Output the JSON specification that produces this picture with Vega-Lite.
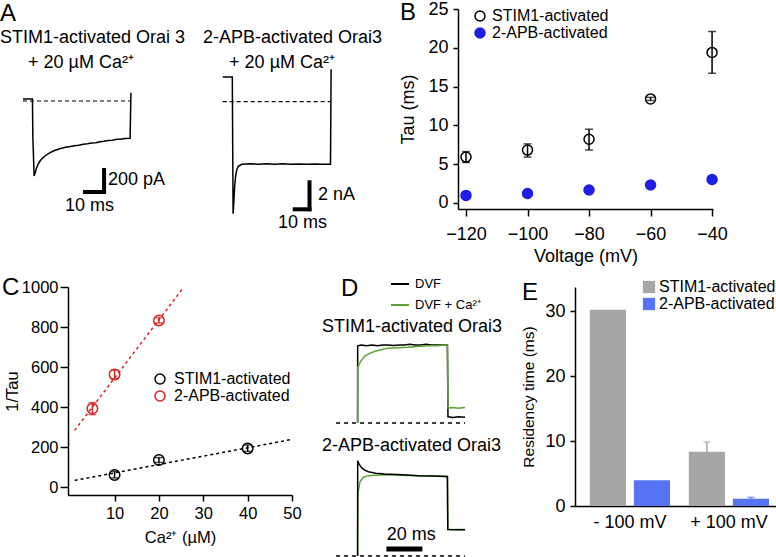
{
  "$schema": "https://vega.github.io/schema/vega-lite/v6.json",
  "padding": 0,
  "background": "white",
  "spacing": 9,
  "bounds": "full",
  "resolve": {"scale": {"x": "independent", "y": "independent", "color": "independent", "stroke": "independent", "fill": "independent"}, "legend": {"color": "independent", "stroke": "independent", "fill": "independent"}},
  "config": {
    "font": "Liberation Sans",
    "view": {"stroke": null},
    "axis": {"grid": false, "domainColor": "black", "domainWidth": 1.5, "tickColor": "black", "tickWidth": 1.5, "tickSize": 5, "labelColor": "black", "labelFontSize": 18, "titleColor": "black", "titleFontSize": 18, "titleFontWeight": "normal", "labelFont": "Liberation Sans", "titleFont": "Liberation Sans", "labelFlush": false, "labelOverlap": false},
    "legend": {"labelFont": "Liberation Sans", "labelColor": "black", "labelFontSize": 16, "padding": 0},
    "title": {"font": "Liberation Sans", "fontWeight": "normal", "fontSize": 24, "color": "black", "anchor": "start", "frame": "group", "subtitleFont": "Liberation Sans", "subtitleFontSize": 18, "subtitleColor": "black"},
    "text": {"font": "Liberation Sans", "color": "black"}
  },
  "datasets": {
    "a1": [{"t":0,"i":17},{"t":4.5,"i":17},{"t":4.7,"i":-300},{"t":5.3,"i":-625},{"t":5.8,"i":-598},{"t":6.5,"i":-556},{"t":7.2,"i":-525},{"t":8.1,"i":-500},{"t":9.2,"i":-478},{"t":10.5,"i":-458},{"t":12.3,"i":-437},{"t":14.4,"i":-417},{"t":17.5,"i":-398},{"t":20.8,"i":-383},{"t":22.6,"i":-379},{"t":24.5,"i":-372},{"t":26.6,"i":-368},{"t":28.7,"i":-361},{"t":30.7,"i":-357},{"t":32.7,"i":-350},{"t":34.7,"i":-347},{"t":36.7,"i":-339},{"t":38.6,"i":-336},{"t":40.6,"i":-329},{"t":42.6,"i":-327},{"t":44.6,"i":-319},{"t":46.5,"i":-318},{"t":48.5,"i":-313},{"t":51.0,"i":-311},{"t":51.4,"i":69}],
    "a1zero": [{"t":0,"i":0},{"t":51,"i":0}],
    "a1bar": [{"t":29.5,"t2":38.6,"i":-758,"i2":-758},{"t":38.6,"t2":38.6,"i":-575,"i2":-758}],
    "a1text": [{"t":2.4,"i":316,"label":"+ 20 µM Ca²⁺"},{"t":40.5,"i":-654,"label":"200 pA"},{"t":20,"i":-875,"label":"10 ms"}],
    "a2": [{"t":0,"i":1.65},{"t":4.8,"i":1.65},{"t":5.2,"i":-7.47},{"t":5.6,"i":-6.6},{"t":6.0,"i":-5.6},{"t":6.5,"i":-4.9},{"t":7.0,"i":-4.55},{"t":7.8,"i":-4.3},{"t":9.5,"i":-4.17},{"t":13.7,"i":-4.13},{"t":18,"i":-4.16},{"t":22,"i":-4.13},{"t":26,"i":-4.17},{"t":30,"i":-4.14},{"t":34,"i":-4.17},{"t":38,"i":-4.15},{"t":42,"i":-4.17},{"t":46,"i":-4.15},{"t":50,"i":-4.16},{"t":53.9,"i":-4.17},{"t":54.2,"i":2.16}],
    "a2zero": [{"t":0,"i":0},{"t":53.7,"i":0}],
    "a2bar": [{"t":36,"t2":43.4,"i":-7.17,"i2":-7.17},{"t":43.4,"t2":43.4,"i":-5.37,"i2":-7.17}],
    "a2text": [{"t":3.2,"i":2.58,"label":"+ 20 µM Ca²⁺"},{"t":47.7,"i":-6.25,"label":"2 nA"},{"t":27.7,"i":-8.09,"label":"10 ms"}],
    "b": [
      {"v":-120,"tau":5.9,"lo":5.2,"hi":6.6,"s":"STIM1-activated"},
      {"v":-100,"tau":6.8,"lo":5.9,"hi":7.6,"s":"STIM1-activated"},
      {"v":-80,"tau":8.2,"lo":6.8,"hi":9.5,"s":"STIM1-activated"},
      {"v":-60,"tau":13.4,"lo":13.2,"hi":13.6,"s":"STIM1-activated"},
      {"v":-40,"tau":19.4,"lo":16.7,"hi":22.1,"s":"STIM1-activated"},
      {"v":-120,"tau":0.95,"s":"2-APB-activated"},
      {"v":-100,"tau":1.2,"s":"2-APB-activated"},
      {"v":-80,"tau":1.65,"s":"2-APB-activated"},
      {"v":-60,"tau":2.3,"s":"2-APB-activated"},
      {"v":-40,"tau":3.0,"s":"2-APB-activated"}
    ],
    "c": [
      {"ca":10,"r":60,"lo":45,"hi":78,"s":"STIM1-activated"},
      {"ca":20,"r":135,"lo":123,"hi":147,"s":"STIM1-activated"},
      {"ca":40,"r":193,"lo":178,"hi":210,"s":"STIM1-activated"},
      {"ca":5,"r":392,"lo":362,"hi":422,"s":"2-APB-activated"},
      {"ca":10,"r":563,"lo":540,"hi":585,"s":"2-APB-activated"},
      {"ca":20,"r":833,"lo":820,"hi":847,"s":"2-APB-activated"}
    ],
    "cfit": [
      {"ca":1,"r":33,"s":"STIM1-activated"},{"ca":50,"r":238,"s":"STIM1-activated"},
      {"ca":1,"r":283,"s":"2-APB-activated"},{"ca":25.4,"r":993,"s":"2-APB-activated"}
    ],
    "dzero": [{"t":-12,"y":0},{"t":59.7,"y":0}],
    "d1": [
      {"t":0,"y":0,"s":"DVF"},{"t":0.05,"y":0.99,"s":"DVF"},{"t":2,"y":1.0,"s":"DVF"},{"t":5,"y":0.99,"s":"DVF"},{"t":8,"y":1.0,"s":"DVF"},{"t":11,"y":0.99,"s":"DVF"},{"t":14,"y":1.0,"s":"DVF"},{"t":17,"y":1.0,"s":"DVF"},{"t":20,"y":0.995,"s":"DVF"},{"t":23,"y":1.0,"s":"DVF"},{"t":26,"y":1.0,"s":"DVF"},{"t":29,"y":1.01,"s":"DVF"},{"t":32,"y":1.0,"s":"DVF"},{"t":35,"y":1.0,"s":"DVF"},{"t":38,"y":1.01,"s":"DVF"},{"t":41,"y":1.0,"s":"DVF"},{"t":44,"y":1.0,"s":"DVF"},{"t":47,"y":1.0,"s":"DVF"},{"t":49.9,"y":1.0,"s":"DVF"},{"t":50.2,"y":0.08,"s":"DVF"},{"t":53,"y":0.07,"s":"DVF"},{"t":56,"y":0.08,"s":"DVF"},{"t":59.7,"y":0.075,"s":"DVF"},
      {"t":0,"y":0,"s":"DVF + Ca²⁺"},{"t":0.05,"y":0.71,"s":"DVF + Ca²⁺"},{"t":1,"y":0.76,"s":"DVF + Ca²⁺"},{"t":2,"y":0.8,"s":"DVF + Ca²⁺"},{"t":4.1,"y":0.86,"s":"DVF + Ca²⁺"},{"t":6.5,"y":0.89,"s":"DVF + Ca²⁺"},{"t":9.7,"y":0.92,"s":"DVF + Ca²⁺"},{"t":13,"y":0.94,"s":"DVF + Ca²⁺"},{"t":16.9,"y":0.96,"s":"DVF + Ca²⁺"},{"t":22,"y":0.965,"s":"DVF + Ca²⁺"},{"t":28,"y":0.97,"s":"DVF + Ca²⁺"},{"t":33,"y":0.98,"s":"DVF + Ca²⁺"},{"t":39,"y":0.99,"s":"DVF + Ca²⁺"},{"t":44,"y":0.99,"s":"DVF + Ca²⁺"},{"t":48.6,"y":1.0,"s":"DVF + Ca²⁺"},{"t":49.9,"y":1.0,"s":"DVF + Ca²⁺"},{"t":50.2,"y":0.19,"s":"DVF + Ca²⁺"},{"t":53,"y":0.2,"s":"DVF + Ca²⁺"},{"t":56,"y":0.19,"s":"DVF + Ca²⁺"},{"t":59.7,"y":0.2,"s":"DVF + Ca²⁺"}
    ],
    "d1text": [{"t":-19.8,"y":1.23,"label":"STIM1-activated Orai3"}],
    "d2": [
      {"t":0,"y":0,"s":"DVF + Ca²⁺"},{"t":0.1,"y":0.8,"s":"DVF + Ca²⁺"},{"t":1.3,"y":0.95,"s":"DVF + Ca²⁺"},{"t":3.2,"y":1.01,"s":"DVF + Ca²⁺"},{"t":6,"y":1.03,"s":"DVF + Ca²⁺"},{"t":15,"y":1.04,"s":"DVF + Ca²⁺"},{"t":25,"y":1.035,"s":"DVF + Ca²⁺"},{"t":33.6,"y":1.03,"s":"DVF + Ca²⁺"},{"t":42,"y":1.025,"s":"DVF + Ca²⁺"},{"t":49.9,"y":1.02,"s":"DVF + Ca²⁺"},{"t":50.1,"y":0.34,"s":"DVF + Ca²⁺"},{"t":55,"y":0.34,"s":"DVF + Ca²⁺"},{"t":59.7,"y":0.34,"s":"DVF + Ca²⁺"},
      {"t":0,"y":0,"s":"DVF"},{"t":0.05,"y":1.22,"s":"DVF"},{"t":1,"y":1.17,"s":"DVF"},{"t":2.3,"y":1.13,"s":"DVF"},{"t":4,"y":1.1,"s":"DVF"},{"t":6,"y":1.08,"s":"DVF"},{"t":10,"y":1.06,"s":"DVF"},{"t":15,"y":1.05,"s":"DVF"},{"t":25,"y":1.04,"s":"DVF"},{"t":33.6,"y":1.03,"s":"DVF"},{"t":42,"y":1.025,"s":"DVF"},{"t":48.5,"y":1.02,"s":"DVF"},{"t":49.9,"y":1.02,"s":"DVF"},{"t":50.1,"y":0.34,"s":"DVF"},{"t":55,"y":0.335,"s":"DVF"},{"t":59.7,"y":0.335,"s":"DVF"}
    ],
    "d2bar": [{"t":16,"t2":36,"y":0.09}],
    "d2text": [{"t":16.2,"y":0.27,"label":"20 ms"},{"t":-19.8,"y":1.41,"label":"2-APB-activated Orai3"}],
    "e": [
      {"g":"- 100 mV","s":"STIM1-activated","v":30.2},
      {"g":"- 100 mV","s":"2-APB-activated","v":3.95},
      {"g":"+ 100 mV","s":"STIM1-activated","v":8.35,"hi":9.85},
      {"g":"+ 100 mV","s":"2-APB-activated","v":1.12,"hi":1.33}
    ]
  },
  "vconcat": [
    {
      "hconcat": [
        {
          "width": 134, "height": 207,
          "title": {"text": "A", "subtitle": "STIM1-activated Orai 3", "dx": -68, "offset": -38, "subtitlePadding": 3},
          "layer": [
            {"data": {"name": "a1zero"}, "mark": {"type": "line", "color": "black", "strokeWidth": 1.2, "strokeDash": [4, 3]},
             "encoding": {"x": {"field": "t", "type": "quantitative", "scale": {"domain": [21.43, 85.24], "nice": false, "zero": false}, "axis": null}, "y": {"field": "i", "type": "quantitative", "scale": {"domain": [-958, 766.4], "nice": false, "zero": false}, "axis": null}}},
            {"data": {"name": "a1"}, "mark": {"type": "line", "color": "black", "strokeWidth": 1.5},
             "encoding": {"x": {"field": "t", "type": "quantitative"}, "y": {"field": "i", "type": "quantitative"}}},
            {"data": {"name": "a1bar"}, "mark": {"type": "rule", "color": "black", "strokeWidth": 4, "strokeCap": "square"},
             "encoding": {"x": {"field": "t", "type": "quantitative"}, "x2": {"field": "t2"}, "y": {"field": "i", "type": "quantitative"}, "y2": {"field": "i2"}}},
            {"data": {"name": "a1text"}, "mark": {"type": "text", "fontSize": 18, "align": "left", "baseline": "middle"},
             "encoding": {"x": {"field": "t", "type": "quantitative"}, "y": {"field": "i", "type": "quantitative"}, "text": {"field": "label"}}}
          ]
        },
        {
          "width": 216, "height": 224,
          "title": {"text": "2-APB-activated Orai3", "fontSize": 18, "dx": -19, "offset": -38},
          "layer": [
            {"data": {"name": "a2zero"}, "mark": {"type": "line", "color": "black", "strokeWidth": 1.2, "strokeDash": [4, 3]},
             "encoding": {"x": {"field": "t", "type": "quantitative", "scale": {"domain": [-0.35, 107.65], "nice": false, "zero": false}, "axis": null}, "y": {"field": "i", "type": "quantitative", "scale": {"domain": [-8.75, 6.18], "nice": false, "zero": false}, "axis": null}}},
            {"data": {"name": "a2"}, "mark": {"type": "line", "color": "black", "strokeWidth": 1.5},
             "encoding": {"x": {"field": "t", "type": "quantitative"}, "y": {"field": "i", "type": "quantitative"}}},
            {"data": {"name": "a2bar"}, "mark": {"type": "rule", "color": "black", "strokeWidth": 4, "strokeCap": "square"},
             "encoding": {"x": {"field": "t", "type": "quantitative"}, "x2": {"field": "t2"}, "y": {"field": "i", "type": "quantitative"}, "y2": {"field": "i2"}}},
            {"data": {"name": "a2text"}, "mark": {"type": "text", "fontSize": 18, "align": "left", "baseline": "middle"},
             "encoding": {"x": {"field": "t", "type": "quantitative"}, "y": {"field": "i", "type": "quantitative"}, "text": {"field": "label"}}}
          ]
        },
        {
          "width": 255, "height": 200,
          "title": {"text": "B", "dx": -58, "offset": -25},
          "layer": [
            {"data": {"name": "b"}, "mark": {"type": "point", "shape": "circle", "size": 100, "strokeWidth": 1.5, "opacity": 1},
             "encoding": {
               "x": {"field": "v", "type": "quantitative", "scale": {"domain": [-122.6, -39.7], "nice": false, "zero": false}, "axis": {"values": [-120, -100, -80, -60, -40], "title": "Voltage (mV)", "tickSize": 7, "labelPadding": 9, "titlePadding": 4, "labelOverlap": false}},
               "y": {"field": "tau", "type": "quantitative", "scale": {"domain": [-0.8, 25], "nice": false, "zero": false}, "axis": {"values": [0, 5, 10, 15, 20, 25], "tickCount": 6, "title": "Tau (ms)", "tickSize": 5, "labelPadding": 5, "titlePadding": 10, "labelOverlap": false}},
               "stroke": {"field": "s", "type": "nominal", "scale": {"domain": ["STIM1-activated", "2-APB-activated"], "range": ["black", "#1f1fe6"]},
                 "legend": {"title": null, "orient": "none", "legendX": 14, "legendY": -1, "symbolType": "circle", "symbolSize": 100, "symbolStrokeWidth": 1.5, "labelFontSize": 16, "rowPadding": 1, "labelOffset": 4, "padding": 0}},
               "fill": {"field": "s", "type": "nominal", "scale": {"domain": ["STIM1-activated", "2-APB-activated"], "range": ["transparent", "#1f1fe6"]},
                 "legend": {"title": null, "orient": "none", "legendX": 14, "legendY": -1, "symbolType": "circle", "symbolSize": 100, "symbolStrokeWidth": 1.5, "labelFontSize": 16, "rowPadding": 1, "labelOffset": 4, "padding": 0}}
             }},
            {"data": {"name": "b"}, "transform": [{"filter": "isValid(datum.lo)"}], "mark": {"type": "rule", "color": "black", "strokeWidth": 1.5},
             "encoding": {
               "x": {"field": "v", "type": "quantitative", "axis": {"values": [-120, -100, -80, -60, -40], "title": "Voltage (mV)", "tickSize": 7, "labelPadding": 9, "titlePadding": 4, "labelOverlap": false}},
               "y": {"field": "lo", "type": "quantitative", "axis": {"values": [0, 5, 10, 15, 20, 25], "tickCount": 6, "title": "Tau (ms)", "tickSize": 5, "labelPadding": 5, "titlePadding": 10, "labelOverlap": false}},
               "y2": {"field": "hi"}}},
            {"data": {"name": "b"}, "transform": [{"filter": "isValid(datum.lo)"}], "mark": {"type": "tick", "orient": "horizontal", "color": "black", "size": 8, "thickness": 1.5},
             "encoding": {"x": {"field": "v", "type": "quantitative", "axis": {"values": [-120, -100, -80, -60, -40], "title": "Voltage (mV)", "tickSize": 7, "labelPadding": 9, "titlePadding": 4, "labelOverlap": false}},
               "y": {"field": "lo", "type": "quantitative", "axis": {"values": [0, 5, 10, 15, 20, 25], "tickCount": 6, "title": "Tau (ms)", "tickSize": 5, "labelPadding": 5, "titlePadding": 10, "labelOverlap": false}}}},
            {"data": {"name": "b"}, "transform": [{"filter": "isValid(datum.lo)"}], "mark": {"type": "tick", "orient": "horizontal", "color": "black", "size": 8, "thickness": 1.5},
             "encoding": {"x": {"field": "v", "type": "quantitative", "axis": {"values": [-120, -100, -80, -60, -40], "title": "Voltage (mV)", "tickSize": 7, "labelPadding": 9, "titlePadding": 4, "labelOverlap": false}},
               "y": {"field": "hi", "type": "quantitative", "axis": {"values": [0, 5, 10, 15, 20, 25], "tickCount": 6, "title": "Tau (ms)", "tickSize": 5, "labelPadding": 5, "titlePadding": 10, "labelOverlap": false}}}}
          ]
        }
      ],
      "spacing": 20,
      "bounds": "flush",
      "resolve": {"scale": {"x": "independent", "y": "independent", "color": "independent", "stroke": "independent", "fill": "independent"}, "legend": {"color": "independent", "stroke": "independent", "fill": "independent"}}
    },
    {
      "hconcat": [
        {
          "width": 224, "height": 208,
          "title": {"text": "C", "dx": -66, "offset": -21},
          "layer": [
            {"data": {"name": "cfit"}, "transform": [{"filter": "datum.s == 'STIM1-activated'"}], "mark": {"type": "line", "color": "black", "strokeDash": [3, 3], "strokeWidth": 1.5},
             "encoding": {
               "x": {"field": "ca", "type": "quantitative", "scale": {"domain": [-0.5, 50], "nice": false, "zero": false}, "axis": {"values": [10, 20, 30, 40, 50], "title": "Ca²⁺ (µM)", "tickSize": 6, "labelPadding": 4, "titlePadding": 8, "labelFontSize": 16.5, "titleFontSize": 16.5, "labelOverlap": false}},
               "y": {"field": "r", "type": "quantitative", "scale": {"domain": [-40, 1000], "nice": false, "zero": false}, "axis": {"values": [0, 200, 400, 600, 800, 1000], "format": "d", "title": "1/Tau", "tickSize": 8, "labelPadding": 2, "titlePadding": 1, "labelFontSize": 16.5, "titleFontSize": 16.5, "labelOverlap": false}}}},
            {"data": {"name": "cfit"}, "transform": [{"filter": "datum.s == '2-APB-activated'"}], "mark": {"type": "line", "color": "#d42323", "strokeDash": [3, 3], "strokeWidth": 1.5},
             "encoding": {"x": {"field": "ca", "type": "quantitative"}, "y": {"field": "r", "type": "quantitative"}}},
            {"data": {"name": "c"}, "transform": [{"filter": "datum.s == 'STIM1-activated'"}], "mark": {"type": "rule", "color": "black", "strokeWidth": 1.5},
             "encoding": {"x": {"field": "ca", "type": "quantitative"}, "y": {"field": "lo", "type": "quantitative"}, "y2": {"field": "hi"}}},
            {"data": {"name": "c"}, "transform": [{"filter": "datum.s == '2-APB-activated'"}], "mark": {"type": "rule", "color": "#d42323", "strokeWidth": 1.5},
             "encoding": {"x": {"field": "ca", "type": "quantitative"}, "y": {"field": "lo", "type": "quantitative"}, "y2": {"field": "hi"}}},
            {"data": {"name": "c"}, "transform": [{"filter": "datum.s == 'STIM1-activated'"}], "mark": {"type": "tick", "orient": "horizontal", "color": "black", "size": 8, "thickness": 1.5},
             "encoding": {"x": {"field": "ca", "type": "quantitative"}, "y": {"field": "lo", "type": "quantitative"}}},
            {"data": {"name": "c"}, "transform": [{"filter": "datum.s == 'STIM1-activated'"}], "mark": {"type": "tick", "orient": "horizontal", "color": "black", "size": 8, "thickness": 1.5},
             "encoding": {"x": {"field": "ca", "type": "quantitative"}, "y": {"field": "hi", "type": "quantitative"}}},
            {"data": {"name": "c"}, "transform": [{"filter": "datum.s == '2-APB-activated'"}], "mark": {"type": "tick", "orient": "horizontal", "color": "#d42323", "size": 8, "thickness": 1.5},
             "encoding": {"x": {"field": "ca", "type": "quantitative"}, "y": {"field": "lo", "type": "quantitative"}}},
            {"data": {"name": "c"}, "transform": [{"filter": "datum.s == '2-APB-activated'"}], "mark": {"type": "tick", "orient": "horizontal", "color": "#d42323", "size": 8, "thickness": 1.5},
             "encoding": {"x": {"field": "ca", "type": "quantitative"}, "y": {"field": "hi", "type": "quantitative"}}},
            {"data": {"name": "c"}, "mark": {"type": "point", "shape": "circle", "filled": false, "size": 110, "strokeWidth": 1.5, "opacity": 1},
             "encoding": {"x": {"field": "ca", "type": "quantitative"}, "y": {"field": "r", "type": "quantitative"},
               "color": {"field": "s", "type": "nominal", "scale": {"domain": ["STIM1-activated", "2-APB-activated"], "range": ["black", "#d42323"]},
                 "legend": {"title": null, "orient": "none", "legendX": 84, "legendY": 84, "symbolType": "circle", "symbolSize": 100, "symbolStrokeWidth": 1.5, "labelFontSize": 16, "rowPadding": 1, "labelOffset": 6, "padding": 0}}}}
          ]
        },
        {
          "width": 195, "height": 271,
          "title": {"text": "D", "dx": 5, "offset": -27},
          "layer": [
            {"layer": [
              {"data": {"name": "dzero"}, "mark": {"type": "line", "color": "black", "strokeWidth": 1.5, "strokeDash": [4, 4]},
               "encoding": {"x": {"field": "t", "type": "quantitative", "scale": {"domain": [-12, 96.33], "nice": false, "zero": false}, "axis": null}, "y": {"field": "y", "type": "quantitative", "scale": {"domain": [-1.731, 1.744], "nice": false, "zero": false}, "axis": null}}},
              {"data": {"name": "d1"}, "mark": {"type": "line", "strokeWidth": 1.5},
               "encoding": {"x": {"field": "t", "type": "quantitative"}, "y": {"field": "y", "type": "quantitative"},
                 "color": {"field": "s", "type": "nominal", "scale": {"domain": ["DVF", "DVF + Ca²⁺"], "range": ["black", "#5aa335"]},
                   "legend": {"title": null, "orient": "none", "legendX": 54, "legendY": -13, "symbolType": "stroke", "symbolSize": 324, "symbolStrokeWidth": 2, "labelFontSize": 13, "rowPadding": 4, "labelOffset": 5, "padding": 0}}}},
              {"data": {"name": "d1text"}, "mark": {"type": "text", "fontSize": 18, "align": "left", "baseline": "middle"},
               "encoding": {"x": {"field": "t", "type": "quantitative"}, "y": {"field": "y", "type": "quantitative"}, "text": {"field": "label"}}}
            ]},
            {"layer": [
              {"data": {"name": "dzero"}, "mark": {"type": "line", "color": "black", "strokeWidth": 1.5, "strokeDash": [4, 4]},
               "encoding": {"x": {"field": "t", "type": "quantitative"}, "y": {"field": "y", "type": "quantitative", "scale": {"domain": [-0.026, 3.449], "nice": false, "zero": false}, "axis": null}}},
              {"data": {"name": "d2"}, "mark": {"type": "line", "strokeWidth": 1.5},
               "encoding": {"x": {"field": "t", "type": "quantitative"}, "y": {"field": "y", "type": "quantitative"},
                 "color": {"field": "s", "type": "nominal"}}},
              {"data": {"name": "d2bar"}, "mark": {"type": "rule", "color": "black", "strokeWidth": 5},
               "encoding": {"x": {"field": "t", "type": "quantitative"}, "x2": {"field": "t2"}, "y": {"field": "y", "type": "quantitative"}}},
              {"data": {"name": "d2text"}, "mark": {"type": "text", "fontSize": 18, "align": "left", "baseline": "middle"},
               "encoding": {"x": {"field": "t", "type": "quantitative"}, "y": {"field": "y", "type": "quantitative"}, "text": {"field": "label"}}}
            ]}
          ],
          "resolve": {"scale": {"y": "independent"}}
        },
        {
          "width": 201, "height": 219,
          "title": {"text": "E", "dx": -53, "offset": -26},
          "layer": [
            {"data": {"name": "e"}, "mark": {"type": "bar"},
             "encoding": {
               "x": {"field": "g", "type": "nominal", "sort": ["- 100 mV", "+ 100 mV"], "scale": {"paddingInner": 0.19, "paddingOuter": 0.11, "align": 0.68}, "axis": {"title": null, "ticks": false, "labelAngle": 0, "labelPadding": 7}},
               "xOffset": {"field": "s", "type": "nominal", "sort": ["STIM1-activated", "2-APB-activated"], "scale": {"paddingInner": 0.18, "paddingOuter": 0}},
               "y": {"field": "v", "type": "quantitative", "scale": {"domain": [0, 33.7], "nice": false}, "axis": {"values": [0, 10, 20, 30], "title": "Residency time (ms)", "tickSize": 5, "labelPadding": 5, "titlePadding": 8, "titleFontSize": 15.5, "labelOverlap": false}},
               "color": {"field": "s", "type": "nominal", "scale": {"domain": ["STIM1-activated", "2-APB-activated"], "range": ["#a6a6a6", "#5573f2"]},
                 "legend": {"title": null, "orient": "none", "legendX": 66, "legendY": -8, "symbolType": "square", "symbolSize": 150, "symbolStrokeWidth": 0, "labelFontSize": 16, "rowPadding": 1, "labelOffset": 2, "padding": 0}}}},
            {"data": {"name": "e"}, "transform": [{"filter": "isValid(datum.hi)"}], "mark": {"type": "rule", "strokeWidth": 1.5},
             "encoding": {"x": {"field": "g", "type": "nominal", "sort": ["- 100 mV", "+ 100 mV"]}, "xOffset": {"field": "s", "type": "nominal", "sort": ["STIM1-activated", "2-APB-activated"]}, "y": {"field": "v", "type": "quantitative"}, "y2": {"field": "hi"},
               "stroke": {"field": "s", "type": "nominal", "scale": {"domain": ["STIM1-activated", "2-APB-activated"], "range": ["#a6a6a6", "#5573f2"]}, "legend": null}}},
            {"data": {"name": "e"}, "transform": [{"filter": "isValid(datum.hi)"}], "mark": {"type": "tick", "orient": "horizontal", "size": 7, "thickness": 1.5},
             "encoding": {"x": {"field": "g", "type": "nominal", "sort": ["- 100 mV", "+ 100 mV"]}, "xOffset": {"field": "s", "type": "nominal", "sort": ["STIM1-activated", "2-APB-activated"]}, "y": {"field": "hi", "type": "quantitative"},
               "fill": {"field": "s", "type": "nominal", "scale": {"domain": ["STIM1-activated", "2-APB-activated"], "range": ["#a6a6a6", "#5573f2"]}, "legend": null}}}
          ]
        }
      ],
      "spacing": 44,
      "bounds": "flush",
      "resolve": {"scale": {"x": "independent", "y": "independent", "color": "independent", "stroke": "independent", "fill": "independent"}, "legend": {"color": "independent", "stroke": "independent", "fill": "independent"}}
    }
  ]
}
